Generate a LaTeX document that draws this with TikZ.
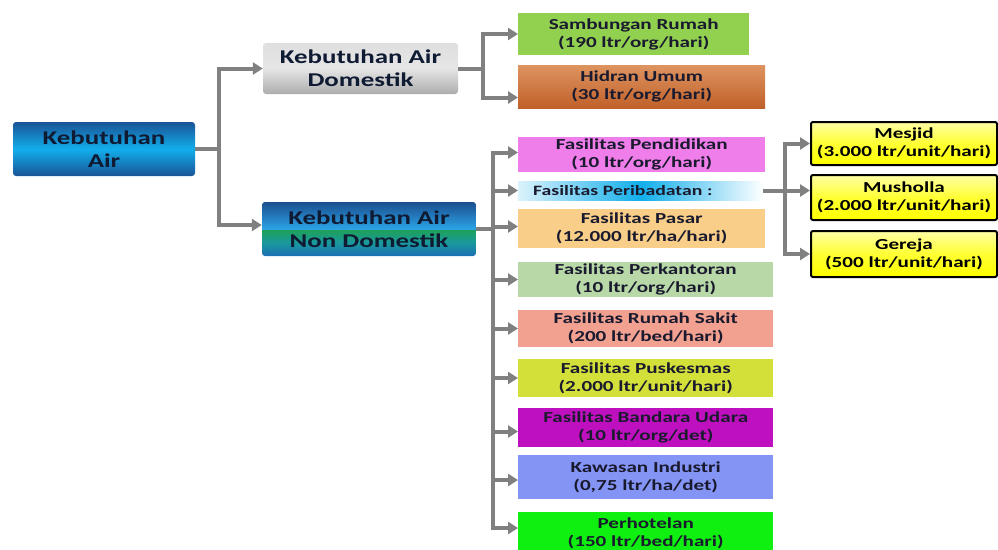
\documentclass[tikz,border=0pt]{standalone}
\usepackage{fontspec}
\setmainfont{Carlito}[FakeStretch=1.38]
\usepackage{xcolor}
\usetikzlibrary{arrows.meta}

\definecolor{linkgray}{HTML}{808080}
\definecolor{boxtext}{HTML}{0F1A33}
\definecolor{subtext}{HTML}{1A1A2E}
\definecolor{airdark}{HTML}{1A5496}
\definecolor{airlight}{HTML}{12AEEC}
\definecolor{ndtop}{HTML}{1B4F8F}
\definecolor{ndlight}{HTML}{2BA3E6}
\definecolor{ndgreen}{HTML}{1FA055}
\definecolor{ndteal}{HTML}{1A9A9A}
\definecolor{ndbot}{HTML}{1A6FB5}
\definecolor{srcol}{HTML}{92D050}
\definecolor{hutop}{HTML}{DE9460}
\definecolor{hubot}{HTML}{C0602A}
\definecolor{pendcol}{HTML}{F07EEA}
\definecolor{peribcol}{HTML}{10AEEA}
\definecolor{pasarcol}{HTML}{F8CE88}
\definecolor{kantorcol}{HTML}{B8D8A8}
\definecolor{rscol}{HTML}{F2A090}
\definecolor{puskcol}{HTML}{D4E03A}
\definecolor{bandaracol}{HTML}{BE10BE}
\definecolor{induscol}{HTML}{8494F4}
\definecolor{hotelcol}{HTML}{10F010}

\pgfdeclareverticalshading{nondomshade}{100bp}{color(0bp)=(ndbot); color(25bp)=(ndbot); color(38bp)=(ndteal); color(49.5bp)=(ndgreen); color(50bp)=(ndlight); color(75bp)=(ndtop); color(100bp)=(ndtop)}

\tikzset{
  link/.style={draw=linkgray, line width=4pt, -{Triangle[length=10pt,width=12pt]}},
  bigbox/.style={rounded corners=3pt, align=center, text=boxtext, inner sep=1pt,
    font=\fontsize{19.5}{23}\selectfont\bfseries},
  subbox/.style={anchor=west, align=center, text=subtext, inner sep=1pt,
    font=\fontsize{15.3}{18}\selectfont\bfseries},
  unitbox/.style={subbox, draw=black, line width=2pt, rounded corners=2pt, text=black,
    top color=yellow!35!white, bottom color=yellow, middle color=yellow!80!white,
    minimum width=186pt}
}

\begin{document}
\begin{tikzpicture}[x=1pt,y=-1pt]
  \useasboundingbox (0,0) rectangle (998,549);
  \clip (0,0) rectangle (998,549);

  % Nodes
  \node[bigbox, top color=airdark, bottom color=airdark, middle color=airlight,
    minimum width=182pt, minimum height=54pt] (air) at (104,149) {Kebutuhan\\Air};
  \node[bigbox, top color=gray!25, bottom color=gray!65, middle color=gray!20,
    minimum width=195pt, minimum height=51pt] (dom) at (360.5,68.5) {Kebutuhan Air\\Domestik};
  \node[bigbox, shading=nondomshade,
    minimum width=214pt, minimum height=54pt] (nondom) at (369,229) {Kebutuhan Air\\Non Domestik};

  \node[subbox, fill=srcol, minimum width=231pt, minimum height=42pt] (sr) at (518,34)
    {Sambungan Rumah\\(190 ltr/org/hari)};
  \node[subbox, top color=hutop, bottom color=hubot, minimum width=247pt, minimum height=43pt] (hu) at (518,86.5)
    {Hidran Umum\\(30 ltr/org/hari)};

  \node[subbox, fill=pendcol, minimum width=247pt, minimum height=35pt] (pend) at (518,154.5)
    {Fasilitas Pendidikan\\(10 ltr/org/hari)};
  \node[subbox, left color=white!85!peribcol, right color=white, middle color=peribcol,
    align=left, text width=215pt, inner xsep=15pt, minimum height=19pt,
    font=\fontsize{14.3}{17}\selectfont\bfseries] (perib) at (518,190.5)
    {Fasilitas Peribadatan :};
  \node[subbox, fill=pasarcol, minimum width=247pt, minimum height=39pt] (pasar) at (518,228.5)
    {Fasilitas Pasar\\(12.000 ltr/ha/hari)};
  \node[subbox, fill=kantorcol, minimum width=255pt, minimum height=35pt] (kantor) at (518,279.5)
    {Fasilitas Perkantoran\\(10 ltr/org/hari)};
  \node[subbox, fill=rscol, minimum width=255pt, minimum height=37pt] (rs) at (518,328.5)
    {Fasilitas Rumah Sakit\\(200 ltr/bed/hari)};
  \node[subbox, fill=puskcol, minimum width=255pt, minimum height=38pt] (pusk) at (518,378)
    {Fasilitas Puskesmas\\(2.000 ltr/unit/hari)};
  \node[subbox, fill=bandaracol, minimum width=255pt, minimum height=39pt] (bandara) at (518,427.5)
    {Fasilitas Bandara Udara\\(10 ltr/org/det)};
  \node[subbox, fill=induscol, minimum width=255pt, minimum height=44pt] (industri) at (518,477)
    {Kawasan Industri\\(0,75 ltr/ha/det)};
  \node[subbox, fill=hotelcol, minimum width=255pt, minimum height=42pt] (hotel) at (518,533)
    {Perhotelan\\(150 ltr/bed/hari)};

  \node[unitbox, minimum height=43pt] (mesjid) at (810,143.5) {Mesjid\\(3.000 ltr/unit/hari)};
  \node[unitbox, minimum height=45pt] (musholla) at (810,197.5) {Musholla\\(2.000 ltr/unit/hari)};
  \node[unitbox, minimum height=46pt] (gereja) at (810,254) {Gereja\\(500 ltr/unit/hari)};

  % Edges
  \draw[link] (air.east) -- ++(24,0) |- (dom.west);
  \draw[link] (air.east) -- ++(24,0) |- ([yshift=4pt]nondom.west);

  \draw[link] (dom.east) -- ++(25,0) |- (sr.west);
  \draw[link] (dom.east) -- ++(25,0) |- ([yshift=-11pt]hu.west);

  \draw[link] (nondom.east) -- ++(17,0) |- ([yshift=2pt]pend.west);
  \draw[link] (nondom.east) -- ++(17,0) |- (perib.west);
  \draw[link] (nondom.east) -- ++(17,0) |- ([yshift=2pt]pasar.west);
  \draw[link] (nondom.east) -- ++(17,0) |- (kantor.west);
  \draw[link] (nondom.east) -- ++(17,0) |- (rs.west);
  \draw[link] (nondom.east) -- ++(17,0) |- (pusk.west);
  \draw[link] (nondom.east) -- ++(17,0) |- ([yshift=-4pt]bandara.west);
  \draw[link] (nondom.east) -- ++(17,0) |- ([yshift=-3pt]industri.west);
  \draw[link] (nondom.east) -- ++(17,0) |- ([yshift=5pt]hotel.west);

  \draw[link] (perib.east) -- ++(22,0) |- (mesjid.west);
  \draw[link] (perib.east) -- ++(22,0) |- ([yshift=7pt]musholla.west);
  \draw[link] (perib.east) -- ++(22,0) |- (gereja.west);
\end{tikzpicture}
\end{document}
